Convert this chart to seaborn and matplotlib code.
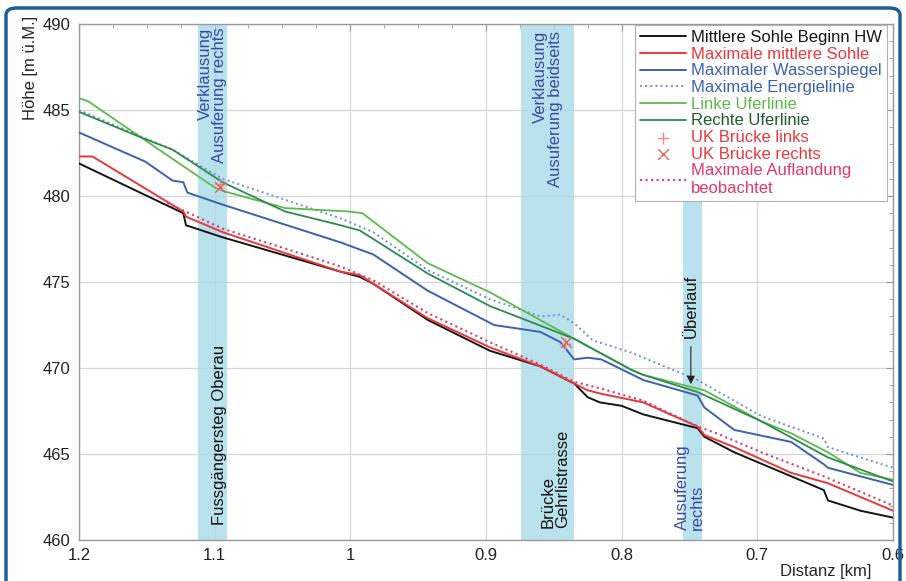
import numpy as np
import pandas as pd
import matplotlib
matplotlib.use("Agg")
import matplotlib.pyplot as plt
import matplotlib.patches as mpatches
from matplotlib.ticker import MultipleLocator
import seaborn as sns

# ---- data ----
black_x = [1.2, 1.123, 1.121, 1.094, 1.007, 0.993, 0.983, 0.943, 0.897, 0.86, 0.835,
           0.825, 0.816, 0.8, 0.784, 0.744, 0.739, 0.717, 0.675, 0.651, 0.648, 0.624, 0.6]
black_y = [481.9, 479.0, 478.3, 477.6, 475.6, 475.3, 474.9, 472.8, 471.0, 470.1, 469.1,
           468.3, 468.0, 467.8, 467.3, 466.5, 466.0, 465.1, 463.7, 462.9, 462.3, 461.7, 461.3]

red_x = [1.2, 1.19, 1.123, 1.121, 1.094, 1.007, 0.993, 0.983, 0.943, 0.897, 0.86, 0.835,
         0.825, 0.815, 0.784, 0.767, 0.744, 0.739, 0.717, 0.675, 0.648, 0.6]
red_y = [482.3, 482.3, 479.1, 478.8, 477.9, 475.6, 475.4, 474.9, 472.9, 471.2, 470.1, 469.1,
         468.7, 468.5, 468.0, 467.4, 466.6, 466.1, 465.4, 463.9, 463.3, 461.7]

wsp_x = [1.2, 1.151, 1.131, 1.123, 1.120, 1.094, 1.007, 0.983, 0.943, 0.894, 0.86, 0.845,
         0.835, 0.825, 0.815, 0.784, 0.744, 0.739, 0.717, 0.675, 0.651, 0.648, 0.6]
wsp_y = [483.7, 482.0, 480.9, 480.8, 480.2, 479.5, 477.3, 476.6, 474.5, 472.5, 472.1, 471.5,
         470.5, 470.6, 470.5, 469.3, 468.4, 467.7, 466.4, 465.7, 464.4, 464.2, 463.2]

energie_x = [1.2, 1.131, 1.094, 1.007, 0.983, 0.943, 0.897, 0.86, 0.845, 0.835, 0.821,
             0.793, 0.744, 0.697, 0.651, 0.648, 0.6]
energie_y = [485.0, 482.7, 481.0, 478.7, 477.9, 475.7, 474.0, 473.0, 473.1, 472.6, 471.6,
             470.9, 469.3, 467.2, 465.9, 465.4, 464.2]

links_x = [1.2, 1.193, 1.154, 1.100, 1.094, 1.048, 1.001, 0.991, 0.943, 0.897, 0.835,
           0.793, 0.784, 0.739, 0.697, 0.675, 0.648, 0.624, 0.6]
links_y = [485.7, 485.5, 483.4, 480.5, 480.3, 479.3, 479.1, 479.0, 476.1, 474.4, 471.7,
           469.9, 469.6, 468.7, 466.9, 466.2, 465.1, 463.9, 463.5]

rechts_x = [1.2, 1.154, 1.131, 1.094, 1.048, 1.007, 0.993, 0.943, 0.897, 0.835, 0.793,
            0.784, 0.744, 0.697, 0.648, 0.6]
rechts_y = [484.9, 483.4, 482.7, 480.8, 479.1, 478.3, 478.0, 475.5, 473.6, 471.7, 469.9,
            469.6, 468.6, 466.9, 464.8, 463.4]

uk_links_x = [1.096, 0.842]
uk_links_y = [480.7, 471.4]
uk_rechts_x = [1.096, 0.841]
uk_rechts_y = [480.5, 471.5]

aufl_x = [1.135, 1.094, 1.05, 1.007, 0.983, 0.943, 0.897, 0.86, 0.835, 0.815, 0.784,
          0.744, 0.73, 0.697, 0.651, 0.6]
aufl_y = [479.6, 478.1, 477.0, 475.9, 475.1, 473.2, 471.5, 470.2, 469.2, 468.8, 468.1,
          466.6, 466.2, 465.1, 463.7, 462.0]

bands = [(1.112, 1.091), (0.8745, 0.835), (0.755, 0.741)]

# ---- styling ----
sns.set_style("white")
plt.rcParams["font.family"] = ["Liberation Sans", "DejaVu Sans"]
FS = 12
C_BLACK = "#151515"
C_RED = "#e8383c"
C_BLUE = "#3c62ae"
C_BLUE_DOT = "#6f8fd0"
C_LGREEN = "#5cbb4c"
C_DGREEN = "#2e8b4e"
C_PINK = "#e2386a"
C_TXT_BLUE = "#3949a0"

fig = plt.figure(figsize=(9.06, 5.81), dpi=100)
ax = fig.add_axes([0.087, 0.0706, 0.8987, 0.888])

for x0, x1 in bands:
    ax.axvspan(x0, x1, color="#a9dbe9", alpha=0.8, lw=0, zorder=1)

sns.lineplot(x=black_x, y=black_y, ax=ax, color=C_BLACK, lw=1.4, sort=False,
             estimator=None, label="Mittlere Sohle Beginn HW", zorder=4)
sns.lineplot(x=red_x, y=red_y, ax=ax, color=C_RED, lw=1.4, sort=False,
             estimator=None, label="Maximale mittlere Sohle", zorder=4)
sns.lineplot(x=wsp_x, y=wsp_y, ax=ax, color=C_BLUE, lw=1.4, sort=False,
             estimator=None, label="Maximaler Wasserspiegel", zorder=4)
sns.lineplot(x=energie_x, y=energie_y, ax=ax, color=C_BLUE_DOT, lw=1.4, linestyle=":",
             sort=False, estimator=None, label="Maximale Energielinie", zorder=4)
sns.lineplot(x=links_x, y=links_y, ax=ax, color=C_LGREEN, lw=1.3, sort=False,
             estimator=None, label="Linke Uferlinie", zorder=4)
sns.lineplot(x=rechts_x, y=rechts_y, ax=ax, color=C_DGREEN, lw=1.3, sort=False,
             estimator=None, label="Rechte Uferlinie", zorder=4)
sns.scatterplot(x=uk_links_x, y=uk_links_y, ax=ax, marker="+", color="#ef8a8a", s=70,
                linewidth=1.0, label="UK Brücke links", zorder=5)
sns.scatterplot(x=uk_rechts_x, y=uk_rechts_y, ax=ax, marker="x", color="#e8605f", s=60,
                linewidth=1.0, label="UK Brücke rechts", zorder=5)
sns.lineplot(x=aufl_x, y=aufl_y, ax=ax, color=C_PINK, lw=1.5, linestyle=":", sort=False,
             estimator=None, label="Maximale Auflandung\nbeobachtet", zorder=4)

# ---- axes ----
ax.set_xlim(1.2, 0.6)
ax.set_ylim(460, 490)
xt = [1.2, 1.1, 1.0, 0.9, 0.8, 0.7, 0.6]
ax.set_xticks(xt)
ax.set_xticklabels(["1.2", "1.1", "1", "0.9", "0.8", "0.7", "0.6"])
ax.set_yticks([460, 465, 470, 475, 480, 485, 490])
ax.xaxis.set_minor_locator(MultipleLocator(0.025))
ax.yaxis.set_minor_locator(MultipleLocator(1))
ax.tick_params(which="both", direction="in", top=True, right=True, color="#999999")
ax.tick_params(which="major", length=5, labelsize=FS, labelcolor="#222222", pad=6)
ax.tick_params(which="minor", length=3)
ax.grid(True, which="major", color="#d6d6d6", lw=0.9, zorder=0)
for sp in ax.spines.values():
    sp.set_color("#9a9a9a")
    sp.set_linewidth(1.0)

ax.set_ylabel("Höhe [m ü.M.]", fontsize=FS, loc="top")
ax.yaxis.set_label_coords(-0.05, 1.015)
ax.set_xlabel("Distanz [km]", fontsize=FS, loc="right")
ax.xaxis.set_label_coords(0.974, -0.047)

# ---- annotations ----
ax.text(1.1015, 489.8, "Verklausung\nAusuferung rechts", rotation=90, ha="center", va="top",
        multialignment="right", color=C_TXT_BLUE, fontsize=FS, linespacing=1.0, zorder=6)
ax.text(1.096, 460.9, "Fussgängersteg Oberau", rotation=90, ha="center", va="bottom",
        color="#111111", fontsize=FS, zorder=6)
ax.text(0.8546, 489.6, "Verklausung\nAusuferung beidseits", rotation=90, ha="center",
        va="top", multialignment="right", color=C_TXT_BLUE, fontsize=FS, linespacing=1.0,
        zorder=6)
ax.text(0.8487, 460.7, "Brücke\nGehrlistrasse", rotation=90, ha="center", va="bottom",
        multialignment="left", color="#111111", fontsize=FS, linespacing=1.0, zorder=6)
ax.text(0.749, 475.4, "Überlauf", rotation=90, ha="center", va="top",
        color="#111111", fontsize=FS, zorder=6)
ax.annotate("", xy=(0.749, 468.9), xytext=(0.749, 471.4),
            arrowprops=dict(arrowstyle="-|>", color="#222222", lw=0.8,
                            mutation_scale=12), zorder=6)
ax.text(0.7495, 460.6, "Ausuferung\nrechts", rotation=90, ha="center", va="bottom",
        multialignment="left", color=C_TXT_BLUE, fontsize=FS, linespacing=1.0, zorder=6)

# ---- legend ----
leg = ax.legend(loc="upper right", bbox_to_anchor=(0.993, 0.998), fontsize=FS,
                frameon=True, fancybox=False, edgecolor="#b0b0b0", framealpha=1,
                labelspacing=0.1, handlelength=2.8, handletextpad=0.3,
                borderpad=0.3, borderaxespad=0.0)
leg.get_frame().set_linewidth(0.8)
txt_colors = [C_BLACK, C_RED, C_BLUE, C_BLUE, C_LGREEN, "#1f5a30", C_RED, C_RED, C_PINK]
for t, c in zip(leg.get_texts(), txt_colors):
    t.set_color(c)
leg.set_zorder(7)

# ---- outer frame ----
frame = mpatches.FancyBboxPatch((6 / 906, -0.05), 894 / 906, 1.05 - 8 / 581,
                                boxstyle="round,pad=0,rounding_size=0.012",
                                transform=fig.transFigure, fill=False,
                                edgecolor="#1d5f98", lw=2.5, zorder=10)
fig.patches.append(frame)

fig.savefig("out.png", dpi=100)
